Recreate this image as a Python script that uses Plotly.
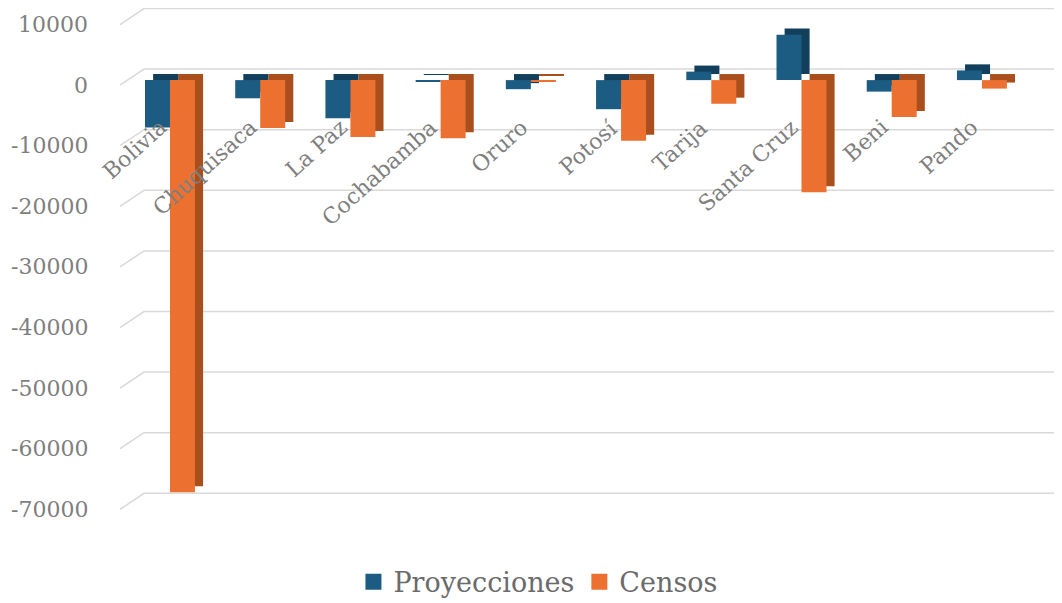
import plotly.graph_objects as go

# ---- data ----
categories = ["Bolivia", "Chuquisaca", "La Paz", "Cochabamba", "Oruro",
              "Potosí", "Tarija", "Santa Cruz", "Beni", "Pando"]
proyecciones = [-7800, -3000, -6300, -150, -1500, -4800, 1400, 7500, -1900, 1600]
censos = [-68000, -7900, -9400, -9600, -250, -10000, -3900, -18500, -6100, -1400]
tick_values = [10000, 0, -10000, -20000, -30000, -40000, -50000, -60000, -70000]
tick_labels = ["10000", "0", "-10000", "-20000", "-30000", "-40000", "-50000", "-60000", "-70000"]

# ---- style constants ----
BLUE, BLUE_DARK = "#1d5c82", "#123f5b"
ORANGE, ORANGE_DARK = "#ec7131", "#a94f1e"
FONT = "DejaVu Serif"
GRAY = "#7f7f7f"
BAR_W = 0.277          # bar width in category units
DEPTH_X = 0.09         # bar depth (category units)
DEPTH_Y = 1000         # bar depth (value units)
WALL_X = 24 / 935      # floor depth (paper fraction)
FLOOR_FRONT = -825     # floor front edge relative to bar front (value units)
WALL_Y = 1815          # back wall relative to bar front (value units)

fig = go.Figure()

def add_series(name, values, color, dark, offset):
    # darker "side/top" face behind the front face
    fig.add_trace(go.Bar(
        x=categories, y=values, base=[DEPTH_Y] * len(values),
        offset=offset + DEPTH_X, width=BAR_W,
        marker=dict(color=dark, line=dict(width=0)),
        showlegend=False, hoverinfo="skip"))
    fig.add_trace(go.Bar(
        x=categories, y=values, name=name,
        offset=offset, width=BAR_W,
        marker=dict(color=color, line=dict(width=0)),
        showlegend=False))
    # legend proxy with a larger square swatch
    fig.add_trace(go.Scatter(
        x=[None], y=[None], mode="markers", name=name,
        marker=dict(symbol="square", size=16, color=color)))

add_series("Proyecciones", proyecciones, BLUE, BLUE_DARK, -BAR_W)
add_series("Censos", censos, ORANGE, ORANGE_DARK, 0.0)

# 3D-style gridlines (floor edge + back wall) and value labels
shapes = []
annotations = []
for v, lab in zip(tick_values, tick_labels):
    shapes.append(dict(
        type="path", xref="paper", yref="y", layer="below",
        path=f"M 0,{v + FLOOR_FRONT} L {WALL_X},{v + WALL_Y} L 1,{v + WALL_Y}",
        line=dict(color="#d9d9d9", width=1.5)))
    annotations.append(dict(
        x=0, y=v + FLOOR_FRONT, xref="paper", yref="y", text=lab, showarrow=False,
        xanchor="right", yanchor="middle", xshift=-30,
        font=dict(family=FONT, size=22, color=GRAY)))

# category labels at the zero line
for c in categories:
    annotations.append(dict(
        x=c, y=0, xref="x", yref="y", text=c, showarrow=False,
        xanchor="right", yanchor="top", textangle=-42,
        xshift=4, yshift=-32,
        font=dict(family=FONT, size=22, color=GRAY)))

fig.update_layout(
    width=1062, height=603,
    margin=dict(l=112, r=15, t=0, b=40),
    paper_bgcolor="white", plot_bgcolor="white",
    barmode="overlay",
    shapes=shapes, annotations=annotations,
    xaxis=dict(range=[-0.554, 9.81], showticklabels=False, showgrid=False,
               zeroline=False, showline=False, ticks=""),
    yaxis=dict(domain=[0.0906, 1], range=[-72588, 11900],
               showticklabels=False,
               showgrid=False, zeroline=False, showline=False, ticks=""),
    legend=dict(orientation="h", x=0.447, xanchor="center", y=-0.02, yanchor="middle",
                font=dict(family=FONT, size=27, color="#6b6b6b"),
                itemwidth=30, itemsizing="trace"),
    showlegend=True,
)

fig.write_html("out.html")
